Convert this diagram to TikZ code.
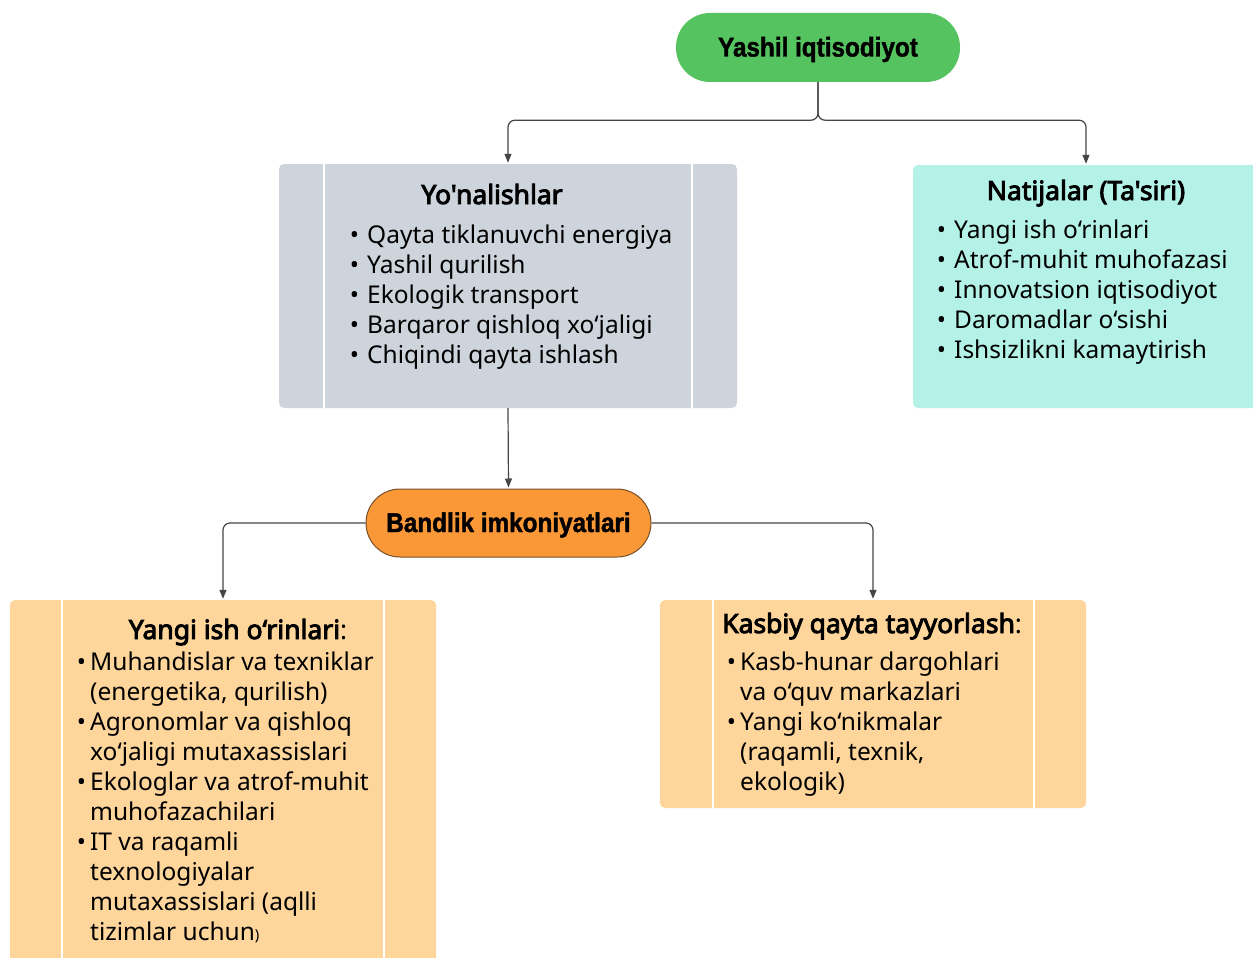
\documentclass[tikz,border=0pt]{standalone}
\usepackage{fontspec}
\newfontfamily\bodyfont{Noto Sans}
\newfontfamily\titlefont[FakeBold=3.5]{Noto Sans}
\newfontfamily\pillfont[FakeStretch=0.9,FakeBold=1.5]{Liberation Sans}
\usetikzlibrary{arrows.meta}
\definecolor{cgreen}{RGB}{85,196,96}
\definecolor{cgray}{RGB}{206,212,220}
\definecolor{cteal}{RGB}{180,242,232}
\definecolor{cpeach}{RGB}{254,213,154}
\definecolor{corange}{RGB}{250,152,55}
\definecolor{cbrown}{RGB}{120,80,40}
\definecolor{cline}{RGB}{70,70,70}
\begin{document}
\begin{tikzpicture}[x=1pt,y=-1pt,
  pill/.style={rounded corners=34pt, inner sep=0pt, font=\pillfont\bfseries\fontsize{27}{30}\selectfont},
  box/.style={rounded corners=5pt, inner sep=0pt, draw=none},
  bar/.style={white, line width=2pt},
  conn/.style={cline, line width=1.2pt, rounded corners=7pt, -{Triangle[length=9pt,width=7pt]}, shorten >=1pt},
  body/.style={font=\bodyfont\fontsize{24.5}{30}\selectfont, inner sep=0pt, anchor=base west},
  ttl/.style={font=\titlefont\fontsize{26.5}{30}\selectfont, inner sep=0pt, anchor=base}
]
\useasboundingbox (0,0) rectangle (1253,958);
\fill[white] (0,0) rectangle (1253,958);

% nodes
\node[pill, fill=cgreen, minimum width=284pt, minimum height=69pt] (top) at (818,47.5) {\raisebox{-9pt}[0pt][0pt]{Yashil iqtisodiyot}};
\node[box, fill=cgray, minimum width=458pt, minimum height=244pt] (dir) at (508,286) {};
\node[box, fill=cteal, minimum width=346pt, minimum height=243pt] (nat) at (1086,286.5) {};
\node[pill, fill=corange, draw=cbrown, line width=1pt, minimum width=285pt, minimum height=68pt] (band) at (508.5,523) {\raisebox{-9pt}[0pt][0pt]{Bandlik imkoniyatlari}};
\node[box, fill=cpeach, minimum width=426pt, minimum height=370pt] (yangi) at (223,785) {};
\node[box, fill=cpeach, minimum width=426pt, minimum height=208pt] (kasb) at (873,704) {};

% side bars
\draw[bar] ([xshift=45pt]dir.north west) -- ([xshift=45pt]dir.south west);
\draw[bar] ([xshift=-45pt]dir.north east) -- ([xshift=-45pt]dir.south east);
\draw[bar] ([xshift=52pt]yangi.north west) -- ([xshift=52pt]yangi.south west);
\draw[bar] ([xshift=-52pt]yangi.north east) -- ([xshift=-52pt]yangi.south east);
\draw[bar] ([xshift=53pt]kasb.north west) -- ([xshift=53pt]kasb.south west);
\draw[bar] ([xshift=-52pt]kasb.north east) -- ([xshift=-52pt]kasb.south east);

% connectors
\draw[conn] (top.south) -- ++(0,38) -| (dir.north);
\draw[conn] (top.south) -- ++(0,38) -| (nat.north);
\draw[conn] (dir.south) -- (band.north);
\draw[conn] (band.west) -| (yangi.north);
\draw[conn] (band.east) -| (kasb.north);

% titles
\node[ttl] (dirT) at (492,204) {Yo'nalishlar};
\node[ttl] (natT) at (1086,200) {Natijalar (Ta'siri)};
\node[ttl] (yangiT) at (238,639) {Yangi ish o‘rinlari{\bodyfont:}};
\node[ttl, anchor=base west] (kasbT) at (722,633) {Kasbiy qayta tayyorlash{\bodyfont:}};

% lists
\foreach \t [count=\i] in {Qayta tiklanuvchi energiya, Yashil qurilish, Ekologik transport, Barqaror qishloq xo‘jaligi, Chiqindi qayta ishlash}
  \node[body] (g\i) at (367,{243+30*(\i-1)}) {\llap{•\hspace{8pt}}\t};
\foreach \t [count=\i] in {Yangi ish o‘rinlari, Atrof-muhit muhofazasi, Innovatsion iqtisodiyot, Daromadlar o‘sishi, Ishsizlikni kamaytirish}
  \node[body] (n\i) at (954,{238+30*(\i-1)}) {\llap{•\hspace{8pt}}\t};
\foreach \b/\t [count=\i] in {1/Muhandislar va texniklar, 0/{(energetika, qurilish)}, 1/Agronomlar va qishloq, 0/xo‘jaligi mutaxassislari, 1/Ekologlar va atrof-muhit, 0/muhofazachilari, 1/IT va raqamli, 0/texnologiyalar, 0/mutaxassislari (aqlli, 0/{tizimlar uchun{\fontsize{15}{15}\selectfont)}}}
  \node[body] (y\i) at (90,{670+30*(\i-1)}) {\ifnum\b=1 \llap{•\hspace{4pt}}\fi\t};
\foreach \b/\t [count=\i] in {1/Kasb-hunar dargohlari, 0/va o‘quv markazlari, 1/Yangi ko‘nikmalar, 0/{(raqamli, texnik,}, 0/ekologik)}
  \node[body] (k\i) at (740,{670+30*(\i-1)}) {\ifnum\b=1 \llap{•\hspace{4pt}}\fi\t};
\end{tikzpicture}
\end{document}
